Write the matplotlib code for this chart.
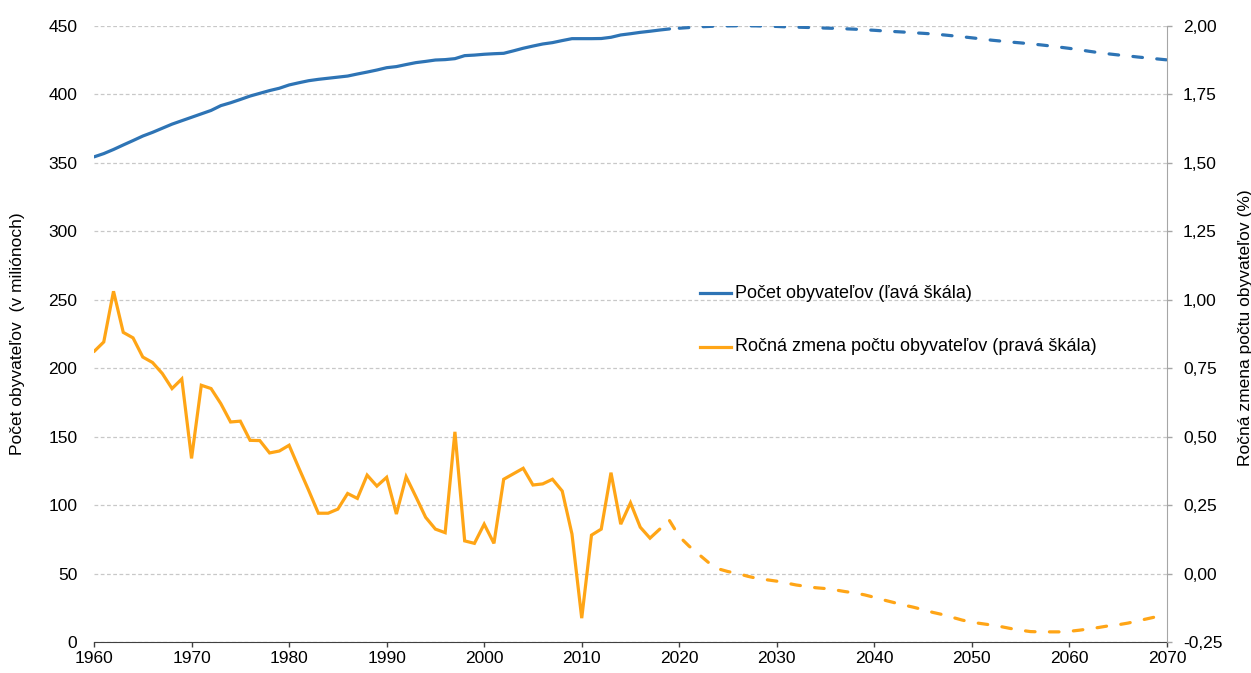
import matplotlib.pyplot as plt
import matplotlib.ticker as mticker
from matplotlib.lines import Line2D
import numpy as np

plt.rcParams['font.family'] = ['Liberation Sans', 'DejaVu Sans']

# roky
roky_hist = list(range(1960, 2020))
roky_proj = list(range(2020, 2071))
roky_zmena_hist = list(range(1960, 2019))
roky_zmena_proj = list(range(2019, 2071))

# pocet obyvatelov (mil.) - historicke udaje
pocet_hist = [354.1, 356.5, 359.5, 362.8, 366.0, 369.3, 372.0, 375.0, 378.0, 380.5,
              383.0, 385.5, 388.0, 391.5, 393.6, 396.0, 398.5, 400.5, 402.5, 404.2,
              406.6, 408.2, 409.7, 410.7, 411.5, 412.3, 413.1, 414.6, 416.0, 417.5,
              419.2, 420.0, 421.5, 422.9, 423.8, 424.8, 425.1, 425.8, 428.0, 428.4,
              429.0, 429.4, 429.7, 431.5, 433.4, 435.0, 436.5, 437.5, 439.0, 440.4,
              440.4, 440.4, 440.5, 441.4, 443.1, 444.0, 445.0, 445.8, 446.7, 447.5]

# pocet obyvatelov (mil.) - projekcia
pocet_proj = [448.0, 448.5, 449.0, 449.3, 449.6, 449.7, 449.8, 449.8, 449.7, 449.5,
              449.3, 449.0, 448.8, 448.6, 448.4, 448.1, 447.9, 447.6, 447.3, 446.9,
              446.5, 446.0, 445.6, 445.2, 444.7, 444.3, 443.8, 443.2, 442.5, 441.8,
              441.0, 440.2, 439.3, 438.6, 437.9, 437.3, 436.6, 435.9, 435.1, 434.2,
              433.3, 432.3, 431.2, 430.2, 429.3, 428.5, 427.8, 427.0, 426.3, 425.6,
              424.9]

# rocna zmena (%) - historicke udaje
zmena_hist = [0.81, 0.845, 1.03, 0.88, 0.86, 0.79, 0.77, 0.73, 0.675, 0.71,
              0.42, 0.687, 0.675, 0.62, 0.553, 0.556, 0.486, 0.485, 0.44, 0.447,
              0.468, 0.385, 0.304, 0.22, 0.22, 0.235, 0.292, 0.274, 0.359, 0.319,
              0.351, 0.217, 0.353, 0.28, 0.205, 0.162, 0.149, 0.517, 0.119, 0.11,
              0.18, 0.11, 0.344, 0.364, 0.384, 0.323, 0.327, 0.344, 0.301, 0.144,
              -0.163, 0.14, 0.162, 0.368, 0.18, 0.258, 0.169, 0.129, 0.162]

# rocna zmena (%) - projekcia
zmena_proj = [0.193, 0.135, 0.10, 0.07, 0.04, 0.017, 0.007, 0.0, -0.01, -0.018,
              -0.023, -0.028, -0.035, -0.042, -0.047, -0.052, -0.055, -0.06, -0.066, -0.071,
              -0.078, -0.087, -0.097, -0.106, -0.115, -0.123, -0.132, -0.142, -0.15, -0.16,
              -0.17, -0.178, -0.183, -0.188, -0.194, -0.201, -0.207, -0.212, -0.213, -0.213,
              -0.213, -0.211, -0.207, -0.202, -0.197, -0.191, -0.187, -0.181, -0.173, -0.165,
              -0.157, -0.148]

legenda = ['Počet obyvateľov (ľavá škála)', 'Ročná zmena počtu obyvateľov (pravá škála)']

modra = '#2E74B5'
oranzova = '#FFA516'
fs = 12.5

W, H = 1251, 673
fig = plt.figure(figsize=(W / 100, H / 100), dpi=100)
ax = fig.add_axes([94 / W, 31 / H, 1073 / W, 616.5 / H])
ax2 = ax.twinx()

ax.plot(roky_hist, pocet_hist, color=modra, lw=2.3, solid_capstyle='round', zorder=3)
ax.plot(roky_proj, pocet_proj, color=modra, lw=2.3, dashes=(3, 4.5),
        dash_capstyle='round', zorder=3)
ax2.plot(roky_zmena_hist, zmena_hist, color=oranzova, lw=2.3, solid_capstyle='round',
         solid_joinstyle='miter')
ax2.plot(roky_zmena_proj, zmena_proj, color=oranzova, lw=2.3, dashes=(3, 4.5),
         dash_capstyle='round')

ax.set_xlim(1960, 2070)
ax.set_ylim(0, 450)
ax2.set_ylim(-0.25, 2.0)
ax.set_xticks(range(1960, 2071, 10))
ax.set_yticks(range(0, 451, 50))
ax2.set_yticks(np.arange(-0.25, 2.01, 0.25))
ax2.yaxis.set_major_formatter(mticker.FuncFormatter(lambda v, p: f'{v:.2f}'.replace('.', ',')))

ax.grid(axis='y', color='#c8c8c8', lw=0.9, ls=(0, (3, 2)))
ax.set_axisbelow(True)

for a in (ax, ax2):
    a.spines['top'].set_visible(False)
    a.spines['left'].set_visible(False)
    a.spines['right'].set_visible(False)
ax.spines['bottom'].set_color('#404040')
ax2.spines['bottom'].set_visible(False)
ax2.spines['right'].set_visible(True)
ax2.spines['right'].set_color('#a6a6a6')

ax.tick_params(axis='y', length=0, pad=12, labelsize=fs, colors='#000000')
ax.tick_params(axis='x', length=3.5, width=1, color='#404040', pad=3, labelsize=fs)
ax2.tick_params(axis='y', length=3.5, width=1, color='#a6a6a6', pad=8, labelsize=fs,
                labelcolor='#000000')

ax.set_ylabel('Počet obyvateľov  (v miliónoch)', fontsize=fs)
ax.yaxis.set_label_coords(-0.064, 0.5)
ax2.set_ylabel('Ročná zmena počtu obyvateľov (%)', fontsize=fs, rotation=90)
ax2.yaxis.set_label_coords(1.066, 0.51)

# legenda - rucne poskladana
for farba, txt, ypix in [(modra, legenda[0], 293), (oranzova, legenda[1], 347)]:
    yf = 1 - ypix / H
    fig.add_artist(Line2D([700 / W, 731 / W], [yf, yf], color=farba, lw=2.3,
                          transform=fig.transFigure))
    fig.text(735 / W, yf, txt, fontsize=13, ha='left', va='center')

fig.savefig('out.png', dpi=100)
